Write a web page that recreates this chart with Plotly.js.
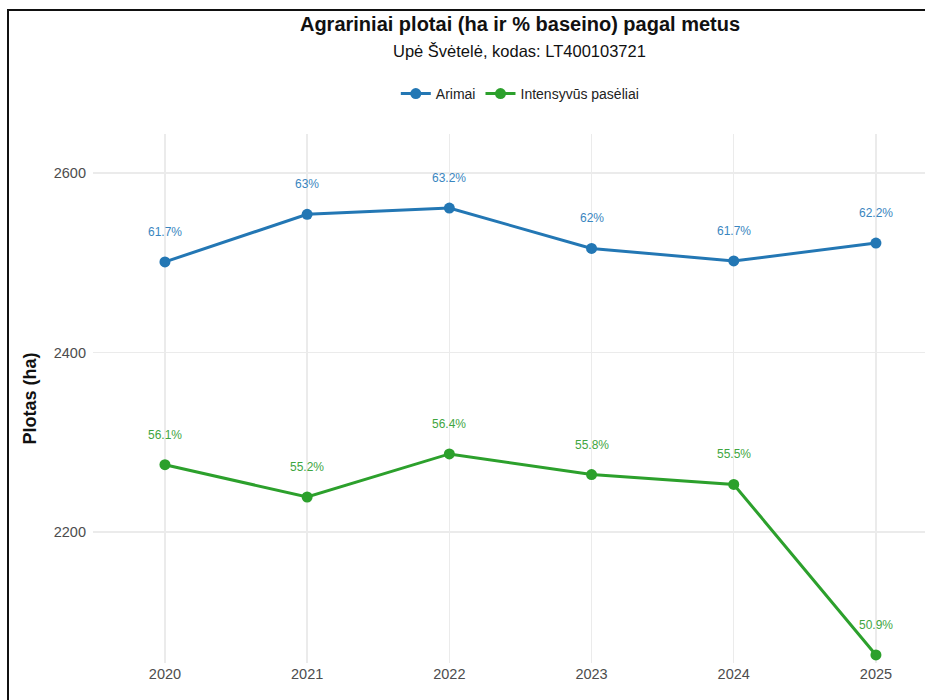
<!DOCTYPE html>
<html>
<head>
<meta charset="utf-8">
<script src="https://cdn.plot.ly/plotly-3.0.1.min.js"></script>
<style>
  html, body { margin: 0; padding: 0; background: #fff; overflow: hidden; }
  #chart { position: absolute; left: 0; top: 0; width: 925px; height: 700px; }
  #frame { position: absolute; left: 7px; top: 9px; width: 1000px; height: 800px;
           border-top: 2px solid #111; border-left: 2px solid #111; pointer-events: none; }
</style>
</head>
<body>
<div id="chart"></div>
<div id="frame"></div>
<script>
const years = [2020, 2021, 2022, 2023, 2024, 2025];
const arimaiHa = [2501, 2554, 2561, 2516, 2502, 2522];
const arimaiPct = ["61.7%", "63%", "63.2%", "62%", "61.7%", "62.2%"];
const intensHa = [2275, 2239, 2287, 2264, 2253, 2063];
const intensPct = ["56.1%", "55.2%", "56.4%", "55.8%", "55.5%", "50.9%"];
const seriesNames = ["Arimai", "Intensyvūs pasėliai"];
const blue = "#2377b4";
const green = "#2ca02c";

const traces = [
  { x: years, y: arimaiHa, name: seriesNames[0], type: "scatter", mode: "lines+markers",
    line: { color: blue, width: 3 }, marker: { color: blue, size: 11 } },
  { x: years, y: intensHa, name: seriesNames[1], type: "scatter", mode: "lines+markers",
    line: { color: green, width: 3 }, marker: { color: green, size: 11 } }
];

const annotations = [];
years.forEach((yr, i) => {
  annotations.push({ x: yr, y: arimaiHa[i], text: arimaiPct[i], showarrow: false,
    yshift: 30, font: { family: "Liberation Sans, Arial, sans-serif", size: 12, color: "#3a86c0" } });
  annotations.push({ x: yr, y: intensHa[i], text: intensPct[i], showarrow: false,
    yshift: 30, font: { family: "Liberation Sans, Arial, sans-serif", size: 12, color: "#3fa63f" } });
});
annotations.push({ xref: "paper", yref: "paper", x: 0.513, y: 1.157, xanchor: "center", yanchor: "middle",
  text: "Upė Švėtelė, kodas: LT400103721", showarrow: false,
  font: { family: "Liberation Sans, Arial, sans-serif", size: 16.5, color: "#111" } });

const layout = {
  width: 925, height: 700,
  margin: { l: 93, r: 0, t: 134, b: 37 },
  paper_bgcolor: "#fff", plot_bgcolor: "#fff",
  font: { family: "Liberation Sans, Arial, sans-serif", color: "#4d4d4d" },
  title: { text: "<b>Agrariniai plotai (ha ir % baseino) pagal metus</b>",
    x: 520/925, xanchor: "center", xref: "container",
    y: 1 - 24/700, yanchor: "middle", yref: "container",
    font: { family: "Liberation Sans, Arial, sans-serif", size: 20, color: "#111" } },
  showlegend: true,
  legend: { orientation: "h", x: 0.513, xanchor: "center", y: 1.0756, yanchor: "middle",
    font: { size: 14, color: "#222" }, itemwidth: 30, traceorder: "normal" },
  xaxis: { range: [2019.494, 2025.345], tickvals: years, ticktext: years.map(String),
    showgrid: true, gridcolor: "#ebebeb", gridwidth: 1.5, zeroline: false, showline: false,
    ticks: "", tickfont: { size: 14.5, color: "#4d4d4d" }, fixedrange: true },
  yaxis: { range: [2054, 2643.5], tickvals: [2200, 2400, 2600],
    showgrid: true, gridcolor: "#ebebeb", gridwidth: 1.5, zeroline: false, showline: false,
    ticks: "", ticklabelstandoff: 6, tickfont: { size: 14.5, color: "#4d4d4d" },
    title: { text: "<b>Plotas (ha)</b>", font: { size: 18, color: "#111" }, standoff: 12 } },
  annotations: annotations
};

Plotly.newPlot("chart", traces, layout, { displayModeBar: false, staticPlot: true });
</script>
</body>
</html>
